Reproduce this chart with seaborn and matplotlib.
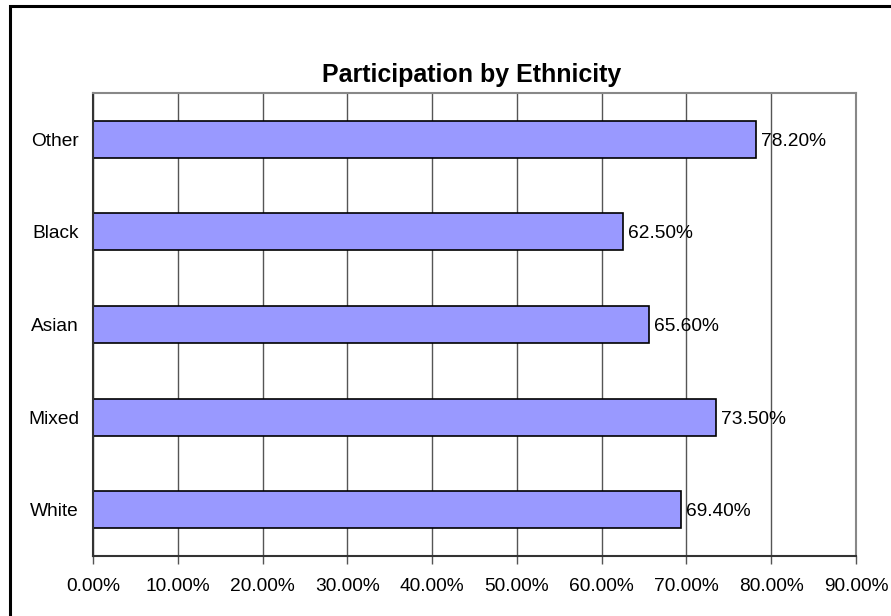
import numpy as np
import pandas as pd
import matplotlib
matplotlib.use("Agg")
import matplotlib.pyplot as plt
from matplotlib.patches import Rectangle
from matplotlib.ticker import FuncFormatter, MultipleLocator
import seaborn as sns

categorias = ["Other", "Black", "Asian", "Mixed", "White"]
valores = [78.2, 62.5, 65.6, 73.5, 69.4]

df = pd.DataFrame({"grupo": categorias, "valor": valores})

sns.set_style("white")
plt.rcParams["font.family"] = ["Liberation Sans", "DejaVu Sans"]
plt.rcParams["text.color"] = "black"
plt.rcParams["xtick.labelcolor"] = "black"
plt.rcParams["ytick.labelcolor"] = "black"

fig = plt.figure(figsize=(8.91, 6.16), dpi=100)
ax = fig.add_axes([93 / 891, 1 - 556 / 616, (856 - 93) / 891, (556 - 93) / 616])

sns.barplot(data=df, x="valor", y="grupo", order=categorias, color="#9999FF",
            saturation=1, edgecolor="black", linewidth=1.2, width=0.4, ax=ax)

for i, v in enumerate(valores):
    ax.text(v + 0.6, i, "%.2f%%" % v, va="center_baseline", ha="left", fontsize=13.8, color="black")

ax.set_xlim(0, 90)
ax.set_ylim(4.5, -0.5)
ax.xaxis.set_major_locator(MultipleLocator(10))
ax.xaxis.set_major_formatter(FuncFormatter(lambda x, p: "%.2f%%" % x))
ax.grid(axis="x", color="#555555", linewidth=1)
ax.set_axisbelow(True)
ax.set_xlabel("")
ax.set_ylabel("")

# ticks on category boundaries, labels at centres
ax.set_yticks(np.arange(len(categorias)))
ax.set_yticklabels(categorias)
ax.set_yticks(np.arange(-0.5, len(categorias)), minor=True)
ax.tick_params(axis="y", which="major", length=0, pad=10, labelsize=13.8)
ax.tick_params(axis="y", which="minor", length=6, width=1, color="#333333", direction="out")
ax.tick_params(axis="x", length=6, width=1, color="#555555", direction="out",
               bottom=True, pad=10, labelsize=13.8)

for s in ["left", "bottom"]:
    ax.spines[s].set_color("#333333")
    ax.spines[s].set_linewidth(1.5)
for s in ["top", "right"]:
    ax.spines[s].set_color("#888888")
    ax.spines[s].set_linewidth(1.5)

fig.text(472 / 891, 1 - 75 / 616, "Participation by Ethnicity", ha="center", va="center",
         fontsize=18, fontweight="bold", color="black")

fig.patches.append(Rectangle((9.5 / 891, -0.1), 1.2, 1 - 5.5 / 616 + 0.1,
                             transform=fig.transFigure, fill=False,
                             edgecolor="black", linewidth=2.2))

fig.savefig("out.png", dpi=100)
